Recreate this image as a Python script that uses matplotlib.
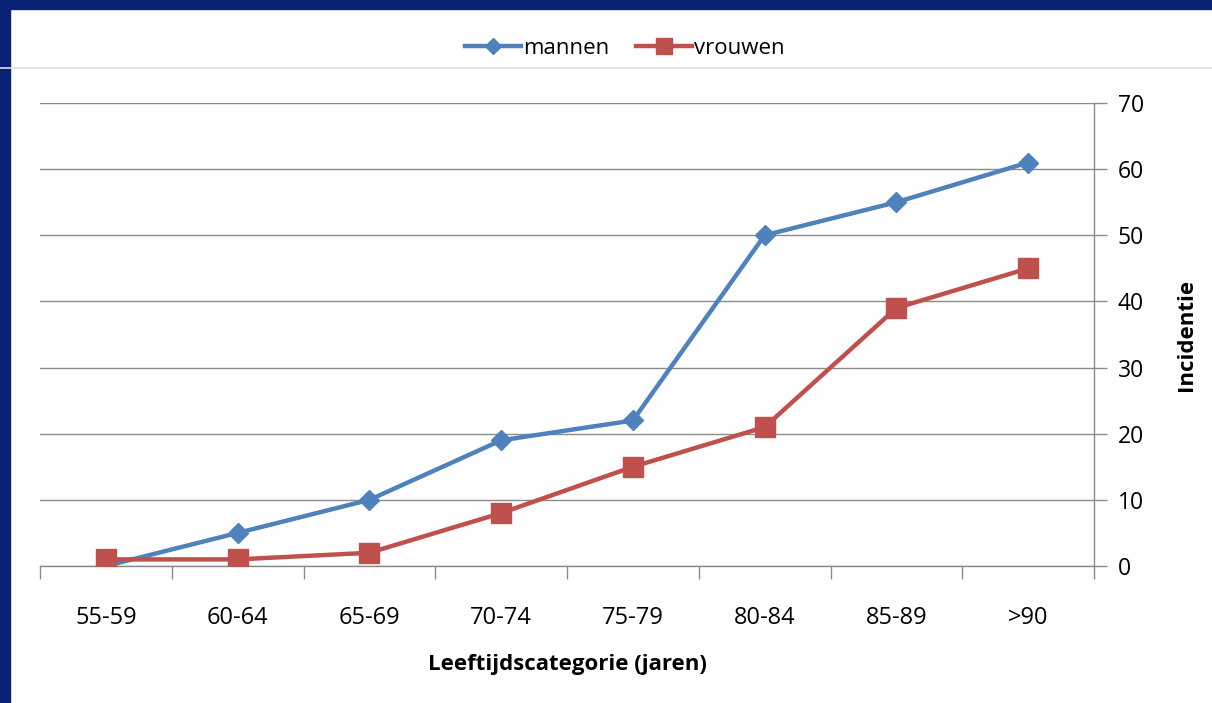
import numpy as np
import matplotlib
matplotlib.use("Agg")
import matplotlib.pyplot as plt
from matplotlib.patches import Rectangle
from matplotlib.lines import Line2D

# data
categories = ["55-59", "60-64", "65-69", "70-74", "75-79", "80-84", "85-89", ">90"]
mannen = [0, 5, 10, 19, 22, 50, 55, 61]
vrouwen = [1, 1, 2, 8, 15, 21, 39, 45]
y_ticks = [0, 10, 20, 30, 40, 50, 60, 70]

plt.rcParams['font.family'] = ['Open Sans', 'DejaVu Sans']

BLUE = "#4F81BD"
RED = "#C0504D"
NAVY = "#0B2175"
GRID = "#8A8A8A"

fig = plt.figure(figsize=(12.12, 7.03), dpi=100)

# slide decoration: navy bars at top and left, thin light rule
fig.patches.append(Rectangle((0, 1 - 9 / 703), 1, 9 / 703, transform=fig.transFigure,
                             color=NAVY, zorder=0))
fig.patches.append(Rectangle((0, 0), 10 / 1212, 1, transform=fig.transFigure,
                             color=NAVY, zorder=0))
fig.add_artist(Line2D([0, 1], [1 - 68 / 703, 1 - 68 / 703], transform=fig.transFigure,
                      color="#DDE1EC", lw=1.2))

ax = fig.add_axes([40 / 1212, 137 / 703, 1054 / 1212, 463 / 703])
x = np.arange(len(categories))

ax.plot(x, mannen, color=BLUE, lw=3.2, marker="D", ms=10, label="mannen",
        solid_joinstyle="round", zorder=3)
ax.plot(x, vrouwen, color=RED, lw=3.2, marker="s", ms=14, label="vrouwen",
        solid_joinstyle="round", zorder=4)

ax.set_xlim(-0.5, len(categories) - 0.5)
ax.set_ylim(0, 70)
ax.set_yticks(y_ticks)
ax.yaxis.tick_right()
ax.yaxis.set_label_position("right")
ax.grid(axis="y", color=GRID, lw=1)
ax.set_axisbelow(True)

ax.set_xticks(x)
ax.set_xticklabels(categories)
ax.set_xticks(np.arange(len(categories) + 1) - 0.5, minor=True)
ax.tick_params(axis="x", which="major", length=0, pad=29, labelsize=17, colors="black")
ax.tick_params(axis="x", which="minor", length=9, width=1, color=GRID, direction="out")
ax.tick_params(axis="y", length=9, width=1, color=GRID, pad=8, labelsize=16.5)

for side in ["left", "top"]:
    ax.spines[side].set_visible(False)
for side in ["right", "bottom"]:
    ax.spines[side].set_color(GRID)
    ax.spines[side].set_linewidth(1)

ax.set_xlabel("Leeftijdscategorie (jaren)", fontsize=16, fontweight="bold", labelpad=17)
ax.set_ylabel("Incidentie", fontsize=16, fontweight="bold", labelpad=23)

fig.legend(loc="center", bbox_to_anchor=(625 / 1212, 1 - 48 / 703), ncol=2,
           frameon=False, fontsize=16, handlelength=2.5, handletextpad=0.1,
           columnspacing=1.2, markerscale=0.8)

fig.savefig("out.png", dpi=100)
